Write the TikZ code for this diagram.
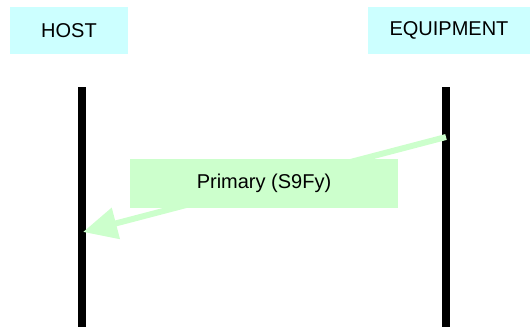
\documentclass[tikz,border=0pt]{standalone}
\usepackage{fontspec}
\setmainfont{Liberation Sans}
\usetikzlibrary{arrows.meta}
\definecolor{actorcyan}{HTML}{CCFFFF}
\definecolor{msggreen}{HTML}{CCFFCC}
\begin{document}
\begin{tikzpicture}[x=1pt,y=-1pt]
\tikzset{%
  >={Triangle[length=34pt,width=31pt]}, % big arrow head
  inner sep=0pt,%
  outer sep=0pt,%
  actor/.style={fill=actorcyan,minimum height=47pt,
    font=\fontsize{20}{24}\selectfont},%
  lifeline/.style={line width=8pt},%
  msgline/.style={line width=6pt,draw=msggreen,->},%
  msglabel/.style={fill=msggreen,minimum width=268pt,minimum height=49pt,
    font=\fontsize{20}{24}\selectfont}%
}
\useasboundingbox (0,0) rectangle (531,327);

%% actors

\node[actor,minimum width=118pt] (host) at (69,30.5) {HOST};
\node[actor,minimum width=162pt] (equip) at (449,30.5) {EQUIPMENT};

%% lifelines

\coordinate (hosttop) at (82,87);
\coordinate (hostbot) at (82,327);
\coordinate (equiptop) at (446,87);
\coordinate (equipbot) at (446,327);
\draw[lifeline] (hosttop) -- (hostbot);
\draw[lifeline] (equiptop) -- (equipbot);

%% message

\coordinate (msgfrom) at (446,137);
\coordinate (msgto) at (83,232);
\draw[msgline] (msgfrom) -- (msgto);
\node[msglabel] (msg) at (264,183.5) {Primary (S9Fy)};
\end{tikzpicture}
\end{document}
